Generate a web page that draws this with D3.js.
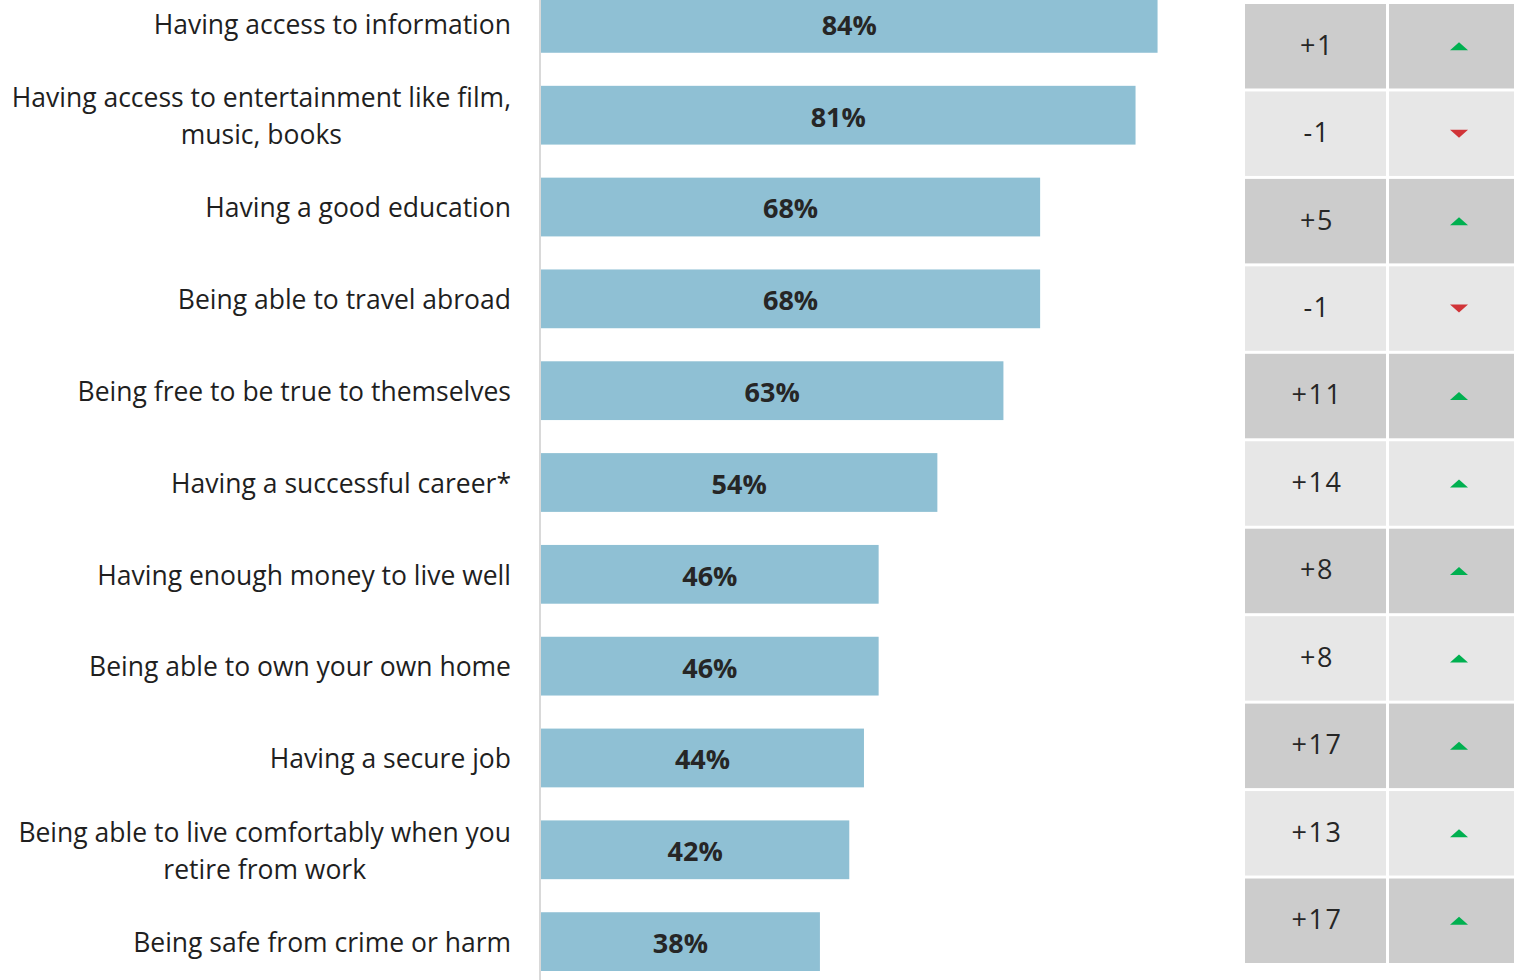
<!DOCTYPE html>
<html>
<head>
<meta charset="utf-8">
<script src="https://cdn.jsdelivr.net/npm/d3@7"></script>
<style>
  body { margin: 0; background: #fff; }
  svg { display: block; font-family: "Open Sans", "Noto Sans", sans-serif; }
</style>
</head>
<body>
<svg width="1514" height="980"></svg>
<script>
var categories = [
  "Having access to information",
  "Having access to entertainment like film,\nmusic, books",
  "Having a good education",
  "Being able to travel abroad",
  "Being free to be true to themselves",
  "Having a successful career*",
  "Having enough money to live well",
  "Being able to own your own home",
  "Having a secure job",
  "Being able to live comfortably when you\nretire from work",
  "Being safe from crime or harm"
];
var values = [84, 81, 68, 68, 63, 54, 46, 46, 44, 42, 38];
var changes = [1, -1, 5, -1, 11, 14, 8, 8, 17, 13, 17];

var svg = d3.select("svg"),
  width = +svg.attr("width"),
  height = +svg.attr("height");

var x = d3.scaleLinear()
    .domain([0, 100])
    .range([541, 541 + 734]);

var y = d3.scaleBand()
    .domain(categories)
    .range([-6, 971])
    .paddingInner(0.36)
    .paddingOuter(0);

var rows = d3.scaleBand()
    .domain(categories)
    .range([4, 963])
    .paddingInner(0.034)
    .paddingOuter(0);

var data = categories.map(function(c, i) {
  return {name: c, value: values[i], change: changes[i], i: i};
});

// bars
svg.append("g")
  .selectAll("rect")
  .data(data)
  .enter().append("rect")
    .attr("x", x(0))
    .attr("y", function(d) { return y(d.name); })
    .attr("width", function(d) { return x(d.value) - x(0); })
    .attr("height", y.bandwidth())
    .attr("fill", "#8fc0d4");

// axis line
svg.append("line")
    .attr("x1", x(0) - 1).attr("x2", x(0) - 1)
    .attr("y1", 0).attr("y2", height)
    .attr("stroke", "#d9d9d9")
    .attr("stroke-width", 2);

// value labels
svg.append("g")
  .selectAll("text")
  .data(data)
  .enter().append("text")
    .attr("x", function(d) { return (x(0) + x(d.value)) / 2; })
    .attr("y", function(d) { return y(d.name) + y.bandwidth() / 2 + 2; })
    .attr("dy", "0.35em")
    .attr("text-anchor", "middle")
    .attr("font-size", 27)
    .attr("font-weight", "bold")
    .attr("fill", "#262626")
    .text(function(d) { return d.value + "%"; });

// category labels
var labels = svg.append("g")
  .selectAll("text")
  .data(data)
  .enter().append("text")
    .attr("text-anchor", "middle")
    .attr("font-size", 26.5)
    .attr("fill", "#1f1f1f");

labels.each(function(d) {
  var lines = d.name.split("\n");
  var t = d3.select(this);
  var cy = y(d.name) + y.bandwidth() / 2 + 1;
  var lh = 37;
  lines.forEach(function(line, k) {
    t.append("tspan")
      .attr("x", 0)
      .attr("y", cy + (k - (lines.length - 1) / 2) * lh)
      .attr("dy", "0.35em")
      .text(line);
  });
});

// center multi-line blocks, right edge at 511
labels.each(function() {
  var bb = this.getBBox();
  d3.select(this).selectAll("tspan").attr("x", 511 - bb.width / 2);
});

// change table
var row = svg.append("g")
  .selectAll("g")
  .data(data)
  .enter().append("g")
    .attr("transform", function(d) { return "translate(0," + rows(d.name) + ")"; });

row.append("rect")
    .attr("x", 1245)
    .attr("width", 141)
    .attr("height", rows.bandwidth())
    .attr("fill", function(d) { return d.i % 2 === 0 ? "#cccccc" : "#e7e7e7"; });

row.append("rect")
    .attr("x", 1389)
    .attr("width", 125)
    .attr("height", rows.bandwidth())
    .attr("fill", function(d) { return d.i % 2 === 0 ? "#cccccc" : "#e7e7e7"; });

row.append("text")
    .attr("x", 1317)
    .attr("y", rows.bandwidth() / 2 - 1)
    .attr("dy", "0.35em")
    .attr("text-anchor", "middle")
    .attr("font-size", 27)
    .attr("letter-spacing", 1.5)
    .attr("fill", "#262626")
    .text(function(d) { return (d.change > 0 ? "+" : "-") + Math.abs(d.change); });

row.append("path")
    .attr("transform", "translate(1459," + (rows.bandwidth() / 2) + ")")
    .attr("d", function(d) {
      return d.change > 0 ? "M-9,4L0,-4L9,4Z" : "M-9,-4L0,4L9,-4Z";
    })
    .attr("fill", function(d) { return d.change > 0 ? "#00b050" : "#d13438"; });
</script>
</body>
</html>
